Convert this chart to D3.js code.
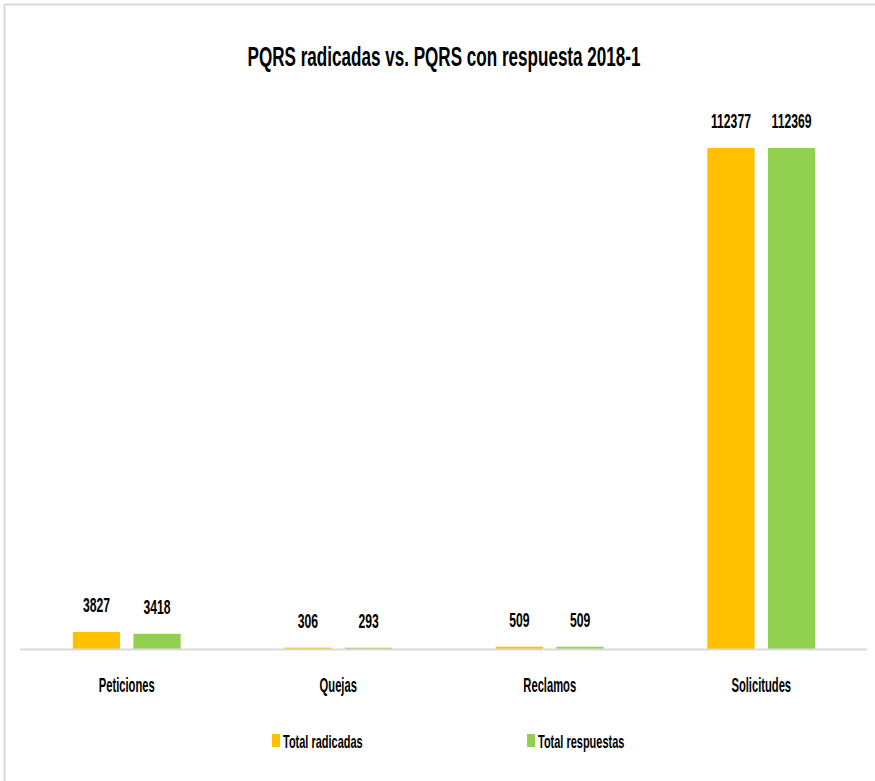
<!DOCTYPE html>
<html>
<head>
<meta charset="utf-8">
<script src="https://cdn.jsdelivr.net/npm/d3@7"></script>
<style>
  html, body { margin: 0; padding: 0; background: #fff; }
  svg { display: block; }
  text { font-family: "Liberation Sans", Arial, sans-serif; font-weight: bold; fill: #000; }
</style>
</head>
<body>
<svg id="chart" width="875" height="781"></svg>
<script>
const title = "PQRS radicadas vs. PQRS con respuesta 2018-1";
const categories = ["Peticiones", "Quejas", "Reclamos", "Solicitudes"];
const seriesNames = ["Total radicadas", "Total respuestas"];
const totalRadicadas = [3827, 306, 509, 112377];
const totalRespuestas = [3418, 293, 509, 112369];
const seriesColors = ["#FFC000", "#92D050"];
const yMax = 120000;

const svg = d3.select("#chart");
const W = 875, H = 781;

// frame
svg.append("line").attr("x1", 4).attr("x2", W).attr("y1", 4.5).attr("y2", 4.5)
  .attr("stroke", "#d9d9d9").attr("stroke-width", 2);
svg.append("line").attr("x1", 4.5).attr("x2", 4.5).attr("y1", 4).attr("y2", H)
  .attr("stroke", "#d9d9d9").attr("stroke-width", 2);

const plot = { left: 21, right: 867, top: 114, bottom: 649 };

const x0 = d3.scaleBand().domain(categories).range([plot.left, plot.right]).padding(0);
const bw = x0.bandwidth();
const x1 = d3.scaleBand().domain(seriesNames).range([bw * 0.245, bw * 0.755]).paddingInner(0.22);
const y = d3.scaleLinear().domain([0, yMax]).range([plot.bottom, plot.top]);

function squishText(sel, x, yPos, str, size, sx) {
  const g = sel.append("g").attr("transform", `translate(${x},${yPos})`);
  g.append("text").attr("transform", `scale(${sx},1)`)
    .attr("text-anchor", "middle").attr("font-size", size).text(str);
  return g;
}

// title
squishText(svg, 444, 66, title, 28, 0.61);

const data = categories.map((c, i) => ({
  cat: c,
  vals: [
    { s: seriesNames[0], v: totalRadicadas[i], color: seriesColors[0] },
    { s: seriesNames[1], v: totalRespuestas[i], color: seriesColors[1] }
  ]
}));

// bars
const groups = svg.append("g").selectAll("g").data(data).join("g")
  .attr("transform", d => `translate(${x0(d.cat)},0)`);

groups.selectAll("rect").data(d => d.vals).join("rect")
  .attr("x", d => x1(d.s))
  .attr("width", x1.bandwidth())
  .attr("y", d => y(d.v))
  .attr("height", d => y(0) - y(d.v))
  .attr("fill", d => d.color);

// value labels
groups.each(function(d) {
  const g = d3.select(this);
  d.vals.forEach(v => {
    squishText(g, x1(v.s) + x1.bandwidth() / 2, y(v.v) - 20, String(v.v), 21, 0.58);
  });
});

// baseline
svg.append("line").attr("x1", plot.left - 1).attr("x2", plot.right)
  .attr("y1", y(0) + 0.5).attr("y2", y(0) + 0.5)
  .attr("stroke", "#d9d9d9").attr("stroke-width", 2);

// category labels
categories.forEach(c => {
  squishText(svg, x0(c) + bw / 2, 692, c, 20, 0.56);
});

// legend
const legendX = [272, 527];
seriesNames.forEach((s, i) => {
  svg.append("rect").attr("x", legendX[i]).attr("y", 734).attr("width", 8).attr("height", 13)
    .attr("fill", seriesColors[i]);
  const g = svg.append("g").attr("transform", `translate(${legendX[i] + 11},748)`);
  g.append("text").attr("transform", "scale(0.61,1)").attr("font-size", 18).text(s);
});
</script>
</body>
</html>
